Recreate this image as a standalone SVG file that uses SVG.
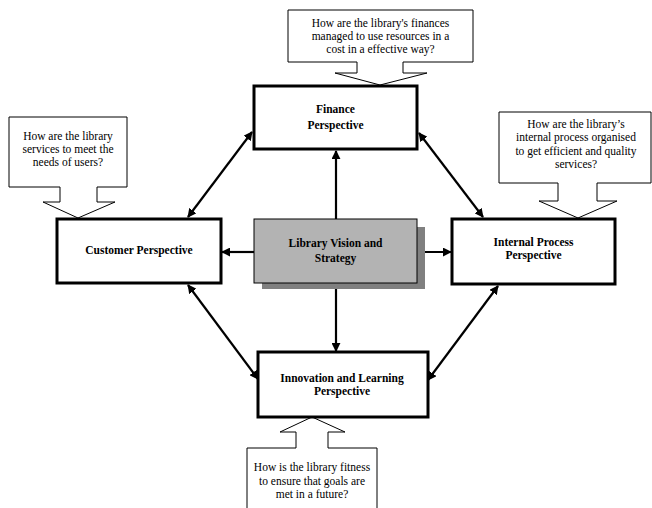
<svg xmlns="http://www.w3.org/2000/svg" width="652" height="508" viewBox="0 0 652 508">
<style>
text{font-family:"Liberation Serif","Times New Roman",serif;font-size:11.5px;fill:#000;text-anchor:middle}
.b{font-weight:bold}
.box{fill:#fff;stroke:#000;stroke-width:3}
.call{fill:#fff;stroke:#000;stroke-width:1}
.con{stroke:#000;stroke-width:2.2;fill:none}
</style>
<defs>
<marker id="ah" viewBox="0 0 10 10" refX="9" refY="5" markerWidth="9" markerHeight="9" markerUnits="userSpaceOnUse" orient="auto-start-reverse">
<path d="M0,0 L10,5 L0,10 Z" fill="#000"/>
</marker>
</defs>
<g id="connectors">
<line class="con" x1="252" y1="132" x2="188" y2="217" marker-start="url(#ah)" marker-end="url(#ah)"/>
<line class="con" x1="419" y1="133" x2="483" y2="217" marker-start="url(#ah)" marker-end="url(#ah)"/>
<line class="con" x1="188" y1="285" x2="258" y2="379" marker-start="url(#ah)" marker-end="url(#ah)"/>
<line class="con" x1="498" y1="286" x2="428" y2="380" marker-start="url(#ah)" marker-end="url(#ah)"/>
<line class="con" x1="336" y1="219" x2="336" y2="151" marker-end="url(#ah)"/>
<line class="con" x1="254" y1="252" x2="222" y2="252" marker-end="url(#ah)"/>
<line class="con" x1="417" y1="252" x2="451" y2="252" marker-end="url(#ah)"/>
<line class="con" x1="336" y1="283" x2="336" y2="351" marker-end="url(#ah)"/>
</g>
<g id="finance-callout">
<path class="call" d="M288,10 H473 V62 H403 V73 H427 L380,85 L335,73 H357 V62 H288 Z"/>
<text x="380.5" y="27">How are the library's finances</text>
<text x="380.5" y="40">managed to use resources in a</text>
<text x="380.5" y="53">cost in a effective way?</text>
</g>
<g id="customer-callout">
<path class="call" d="M9,117 H127 V187 H97 V202 H115 L78,218 L43,202 H60 V187 H9 Z"/>
<text x="68" y="140">How are the library</text>
<text x="68" y="153">services to meet the</text>
<text x="68" y="166">needs of users?</text>
</g>
<g id="internal-callout">
<path class="call" d="M499,112 H651 V183 H597 V201 H617 L578,218 L539,201 H558 V183 H499 Z"/>
<text x="576" y="128">How are the library’s</text>
<text x="576" y="141">internal process organised</text>
<text x="576" y="155">to get efficient and quality</text>
<text x="576" y="168">services?</text>
</g>
<g id="innovation-callout">
<path class="call" d="M247,512 V448 H296 V432 H280 L312,417 L345,432 H328 V448 H377 V512"/>
<text x="312" y="471">How is the library fitness</text>
<text x="312" y="485">to ensure that goals are</text>
<text x="312" y="498">met in a future?</text>
</g>
<g id="finance">
<rect class="box" x="254" y="86" width="163" height="63"/>
<text class="b" x="335.5" y="113">Finance</text>
<text class="b" x="335.5" y="129">Perspective</text>
</g>
<g id="customer">
<rect class="box" x="57" y="219" width="164" height="64"/>
<text class="b" x="139" y="254">Customer Perspective</text>
</g>
<g id="center">
<rect x="262" y="227" width="163" height="62" fill="#808080"/>
<rect x="254" y="219" width="163" height="64" fill="#b3b3b3" stroke="#000" stroke-width="1"/>
<text class="b" x="335.5" y="247">Library Vision and</text>
<text class="b" x="335.5" y="262">Strategy</text>
</g>
<g id="internal">
<rect class="box" x="452" y="219" width="163" height="65"/>
<text class="b" x="533.5" y="246">Internal Process</text>
<text class="b" x="533.5" y="259">Perspective</text>
</g>
<g id="innovation">
<rect class="box" x="258" y="352" width="170" height="65"/>
<text class="b" x="342" y="382">Innovation and Learning</text>
<text class="b" x="342" y="395">Perspective</text>
</g>
</svg>
